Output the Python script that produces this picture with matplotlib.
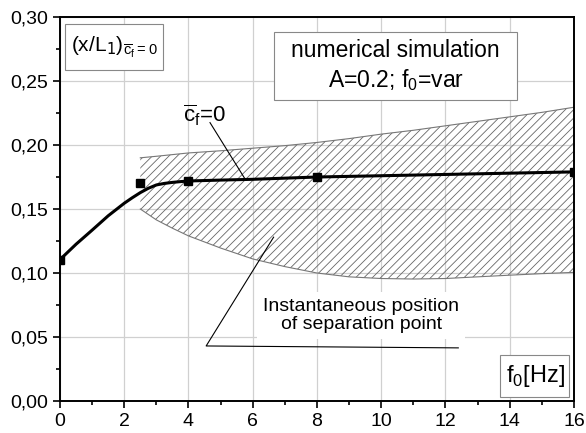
import matplotlib.pyplot as plt
from matplotlib.patches import Rectangle
from matplotlib.ticker import FuncFormatter, MultipleLocator

plt.rcParams['font.family'] = ['Liberation Sans', 'DejaVu Sans']
plt.rcParams['hatch.linewidth'] = 0.6
plt.rcParams['hatch.color'] = '#666666'

# mean separation point (smooth curve) and simulated points
curve_f = [0, 0.5, 1, 1.5, 2, 2.25, 2.5, 2.75, 3, 3.25, 3.5, 3.75, 4, 5, 6, 8, 10, 12, 14, 16]
curve_x = [0.1105, 0.1225, 0.1335, 0.1447, 0.1545, 0.1588, 0.1628, 0.1662, 0.1688, 0.1700,
           0.1708, 0.1714, 0.1719, 0.1726, 0.1732, 0.1750, 0.1760, 0.1770, 0.1780, 0.1790]
pts_f = [0, 2.5, 4, 8, 16]
pts_x = [0.110, 0.170, 0.172, 0.175, 0.179]

# band of instantaneous separation point
band_f = [2.5, 3, 3.5, 4, 5, 6, 7, 8, 9, 10, 11, 12, 13, 14, 15, 16]
band_hi = [0.1900, 0.1912, 0.1925, 0.1938, 0.1955, 0.1975, 0.1995, 0.2020, 0.2050, 0.2085,
           0.2115, 0.2150, 0.2185, 0.2220, 0.2255, 0.2295]
band_lo = [0.1500, 0.1415, 0.1350, 0.1290, 0.1195, 0.1110, 0.1050, 0.1000, 0.0970, 0.0957,
           0.0953, 0.0957, 0.0970, 0.0983, 0.0995, 0.1005]

fig = plt.figure(figsize=(5.86, 4.33), dpi=100)
ax = fig.add_axes([0.1024, 0.0739, 0.877, 0.8868])

ax.fill_between(band_f, band_lo, band_hi, facecolor='none', edgecolor='#666666',
                hatch='////', linewidth=0, zorder=2)
ax.plot(band_f, band_hi, color='#777777', lw=0.8, zorder=2)
ax.plot(band_f, band_lo, color='#777777', lw=0.8, zorder=2)

ax.plot(curve_f, curve_x, color='black', lw=2.2, zorder=4)
ax.plot(pts_f, pts_x, 's', color='black', ms=5.5, zorder=5)

ax.set_xlim(0, 16)
ax.set_ylim(0, 0.30)
ax.xaxis.set_major_locator(MultipleLocator(2))
ax.xaxis.set_minor_locator(MultipleLocator(1))
ax.yaxis.set_major_locator(MultipleLocator(0.05))
ax.yaxis.set_minor_locator(MultipleLocator(0.025))
ax.yaxis.set_major_formatter(FuncFormatter(lambda v, p: f'{v:.2f}'.replace('.', ',')))
ax.tick_params(which='both', direction='out', labelsize=14, width=1.2)
ax.tick_params(which='major', length=5)
ax.tick_params(which='minor', length=3)
ax.grid(True, which='major', color='#d0d0d0', lw=0.9, zorder=0)
ax.set_axisbelow(True)
for s in ax.spines.values():
    s.set_linewidth(1.4)


def frame(x0, y0, x1, y1, edge='#888888'):
    ax.add_patch(Rectangle((x0, y0), x1 - x0, y1 - y0, facecolor='white',
                           edgecolor=edge, lw=0.8, zorder=6))


frame(0.156, 0.2586, 3.21, 0.2945)
ax.text(1.68, 0.2766, r'(x/L$_1$)$_{\overline{\mathregular{c}}_\mathregular{f}\mathregular{=0}}$',
        fontsize=15, ha='center', va='center', zorder=7)

frame(6.67, 0.2352, 14.24, 0.2883)
ax.text(10.45, 0.2617, 'numerical simulation\nA=0.2; f$_\\mathregular{0}$=var',
        fontsize=16.5, ha='center', va='center', linespacing=1.25, zorder=7)

frame(13.71, 0.0031, 15.86, 0.0359)
ax.text(14.8, 0.0195, 'f$_\\mathregular{0}$[Hz]', fontsize=17, ha='center', va='center',
        zorder=7)

ax.text(4.5, 0.223, r'$\overline{\mathregular{c}}_\mathregular{f}$=0', fontsize=16,
        ha='center', va='center', zorder=6)
ax.plot([4.67, 5.76], [0.2175, 0.1735], color='black', lw=0.8, zorder=6)

ax.text(9.38, 0.067, 'Instantaneous position\nof separation point', fontsize=14,
        ha='center', va='center', linespacing=1.1, zorder=6,
        bbox=dict(boxstyle='square,pad=0.3', facecolor='white', edgecolor='none'))
ax.plot([6.65, 4.55, 12.4], [0.128, 0.043, 0.0415], color='black', lw=0.8, zorder=6)

fig.savefig('out.png', dpi=100)
